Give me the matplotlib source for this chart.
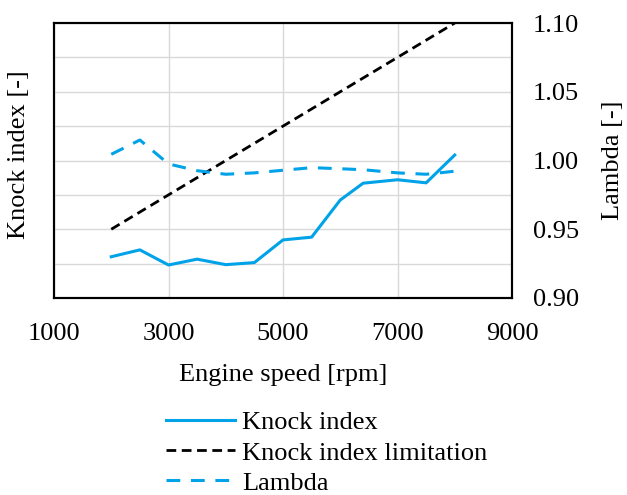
import matplotlib.pyplot as plt

plt.rcParams['font.family'] = ['Liberation Serif', 'DejaVu Serif']

# Engine speed [rpm]
speed = [2000, 2500, 3000, 3500, 4000, 4500, 5000, 5500, 6000, 6400, 7000, 7500, 8000]

# Knock index (left axis, unlabelled scale)
knock = [1.20, 1.40, 0.96, 1.13, 0.97, 1.03, 1.69, 1.77, 2.85, 3.34, 3.44, 3.35, 4.16]

# Knock index limitation
limit_speed = [2000, 8000]
limit = [2.0, 8.0]

# Lambda (right axis)
lam = [1.0045, 1.0149, 0.9975, 0.9926, 0.9900, 0.9910, 0.9929, 0.9948,
       0.9940, 0.9933, 0.9910, 0.9900, 0.9922]

x_ticks = [1000, 3000, 5000, 7000, 9000]
lam_ticks = [0.90, 0.95, 1.00, 1.05, 1.10]

blue = '#00A2E8'
fs = 19

fig = plt.figure(figsize=(6.27, 4.95), dpi=100)
ax = fig.add_axes([54 / 627, 197 / 495, 458 / 627, 275 / 495])
ax2 = ax.twinx()

l1, = ax.plot(speed, knock, color=blue, lw=2.2, label='Knock index')
l2, = ax.plot(limit_speed, limit, color='black', lw=2, dashes=(3.5, 2),
              label='Knock index limitation')
l3, = ax2.plot(speed, lam, color=blue, lw=2.2, dashes=(4.5, 3.5), label='Lambda')

# left axis: gridlines only, no labels
ax.set_xlim(1000, 9000)
ax.set_ylim(0, 8)
ax.set_yticks(range(0, 9))
ax.set_yticklabels([])
ax.set_xticks(x_ticks)
ax.grid(True, color='#d9d9d9', lw=1)
ax.set_axisbelow(True)
ax.tick_params(axis='both', length=0, labelsize=fs, pad=18)
ax.set_ylabel('Knock index [-]', fontsize=fs)
ax.yaxis.set_label_coords(-24 / 458, 0.52)
ax.set_xlabel('Engine speed [rpm]', fontsize=fs)
ax.xaxis.set_label_coords(0.5, -66 / 275)

ax2.set_ylim(0.90, 1.10)
ax2.set_yticks(lam_ticks)
ax2.set_yticklabels([f'{v:.2f}' for v in lam_ticks])
ax2.tick_params(axis='y', length=0, labelsize=fs, pad=15)
ax2.set_ylabel('Lambda [-]', fontsize=fs)
ax2.yaxis.set_label_coords(1 + 90 / 458, 0.5)

for a in (ax, ax2):
    for s in a.spines.values():
        s.set_color('black')
        s.set_linewidth(1.5)

fig.legend(handles=[l1, l2, l3], loc='upper left', bbox_to_anchor=(166 / 627, 1 - 411 / 495),
           frameon=False, fontsize=fs, handlelength=2.6, handletextpad=0.28,
           labelspacing=0.25, borderpad=0, borderaxespad=0)

fig.savefig('out.png', dpi=100)
